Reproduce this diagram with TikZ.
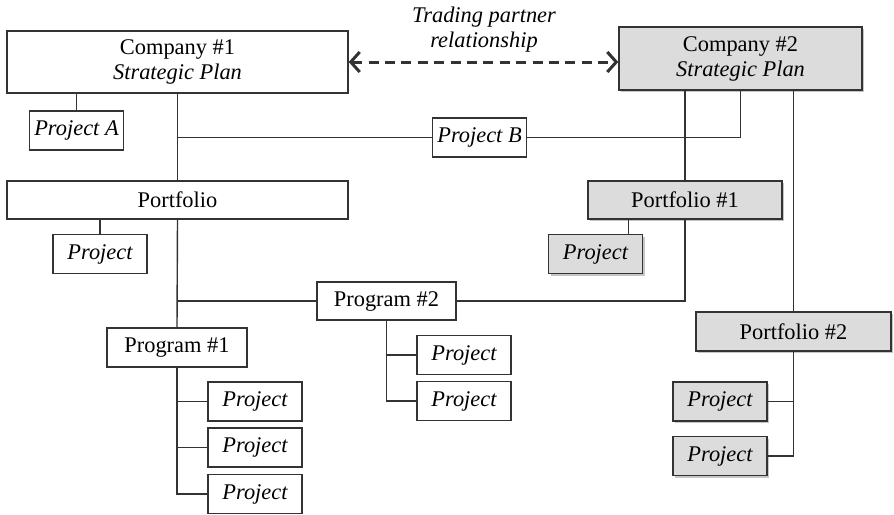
\documentclass[tikz,border=0pt]{standalone}
\usepackage{fontspec}
\setmainfont{Liberation Serif}
\usepackage{tikz}
\usetikzlibrary{arrows.meta,shadows,calc}

\definecolor{boxgray}{HTML}{DCDCDC}
\definecolor{linegray}{HTML}{333333}

\tikzset{
    box/.style={draw=linegray, line width=0.7pt, inner sep=0pt, align=center,
        font=\fontsize{11.2}{12.5}\selectfont},
    graybox/.style={box, fill=boxgray,
        drop shadow={shadow xshift=1.2pt, shadow yshift=-1.2pt, opacity=0.45}},
    proj/.style={minimum width=47pt, minimum height=19.5pt, font=\fontsize{11.2}{12.5}\selectfont\itshape},
    link/.style={draw=linegray, line width=0.7pt},
}

\begin{document}
\begin{tikzpicture}[x=0.5pt,y=-0.5pt]
            \useasboundingbox (0,0) rectangle (894,514);

            \node[box, minimum width=170.5pt, minimum height=31pt] (Company1) at (177.5,62) {Company \#1\\ \textit{Strategic Plan}};
            \node[graybox, minimum width=121.5pt, minimum height=31.5pt] (Company2) at (740.5,58.5) {Company \#2\\ \textit{Strategic Plan}};
            \node[align=center, font=\fontsize{11.2}{12.5}\selectfont\itshape] (Partner) at (484,30) {Trading partner\\ relationship};

            \node[box, proj] (ProjectA) at (76.5,130.5) {Project A};
            \node[box, proj] (ProjectB) at (479.5,137.5) {Project B};

            \node[box, minimum width=170.5pt, minimum height=19pt] (Portfolio) at (177.5,200) {Portfolio};
            \node[graybox, minimum width=97pt, minimum height=19pt] (Portfolio1) at (685,200) {Portfolio \#1};
            \node[graybox, minimum width=97.5pt, minimum height=19.5pt] (Portfolio2) at (793.5,331.5) {Portfolio \#2};

            \node[box, proj] (ProjectP) at (100,254) {Project};
            \node[graybox, proj] (ProjectQ) at (595.5,254) {Project};

            \node[box, minimum width=70pt, minimum height=19.5pt] (Program1) at (177,347.5) {Program \#1};
            \node[box, minimum width=69.5pt, minimum height=19pt] (Program2) at (386.5,301) {Program \#2};

            \node[box, proj] (ProjectC) at (255,401.5) {Project};
            \node[box, proj] (ProjectD) at (255,447.5) {Project};
            \node[box, proj] (ProjectE) at (255,494) {Project};

            \node[box, proj] (ProjectF) at (464,355) {Project};
            \node[box, proj] (ProjectG) at (464,401) {Project};

            \node[graybox, proj] (ProjectH) at (720,401.5) {Project};
            \node[graybox, proj] (ProjectI) at (720,456) {Project};

            \coordinate (QTop) at ($(ProjectQ.north east)+(-15,0)$);

            \draw[link, dash pattern=on 5pt off 3.2pt, line width=1.5pt,
                {Straight Barb[length=4.5pt,width=10pt]}-{Straight Barb[length=4.5pt,width=10pt]}]
                (Company1.east) -- (Company1.east -| Company2.west);

            \draw[link] (Company1.south -| ProjectA) -- (ProjectA.north);
            \draw[link] (Company1.south) -- (Portfolio.north);
            \draw[link] (Company1.south |- ProjectB.west) -- (ProjectB.west);
            \draw[link] (ProjectB.east) -| (Company2.south);
            \draw[link] (Portfolio1.north |- Company2.south) -- (Portfolio1.north);
            \draw[link] (Portfolio2.north |- Company2.south) -- (Portfolio2.north);

            \draw[link] (Portfolio.south -| ProjectP) -- (ProjectP.north);
            \draw[link] (Portfolio.south) -- (Program1.north);
            \draw[link] (Program2.west) -| (Portfolio.south);

            \draw[link] (QTop |- Portfolio1.south) -- (QTop);
            \draw[link] (Portfolio1.south) |- (Program2.east);

            \draw[link] (Program1.south) |- (ProjectC.west);
            \draw[link] (Program1.south) |- (ProjectD.west);
            \draw[link] (Program1.south) |- (ProjectE.west);

            \draw[link] (Program2.south) |- (ProjectF.west);
            \draw[link] (Program2.south) |- (ProjectG.west);

            \draw[link] (Portfolio2.south) |- (ProjectH.east);
            \draw[link] (Portfolio2.south) |- (ProjectI.east);
        \end{tikzpicture}
\end{document}
